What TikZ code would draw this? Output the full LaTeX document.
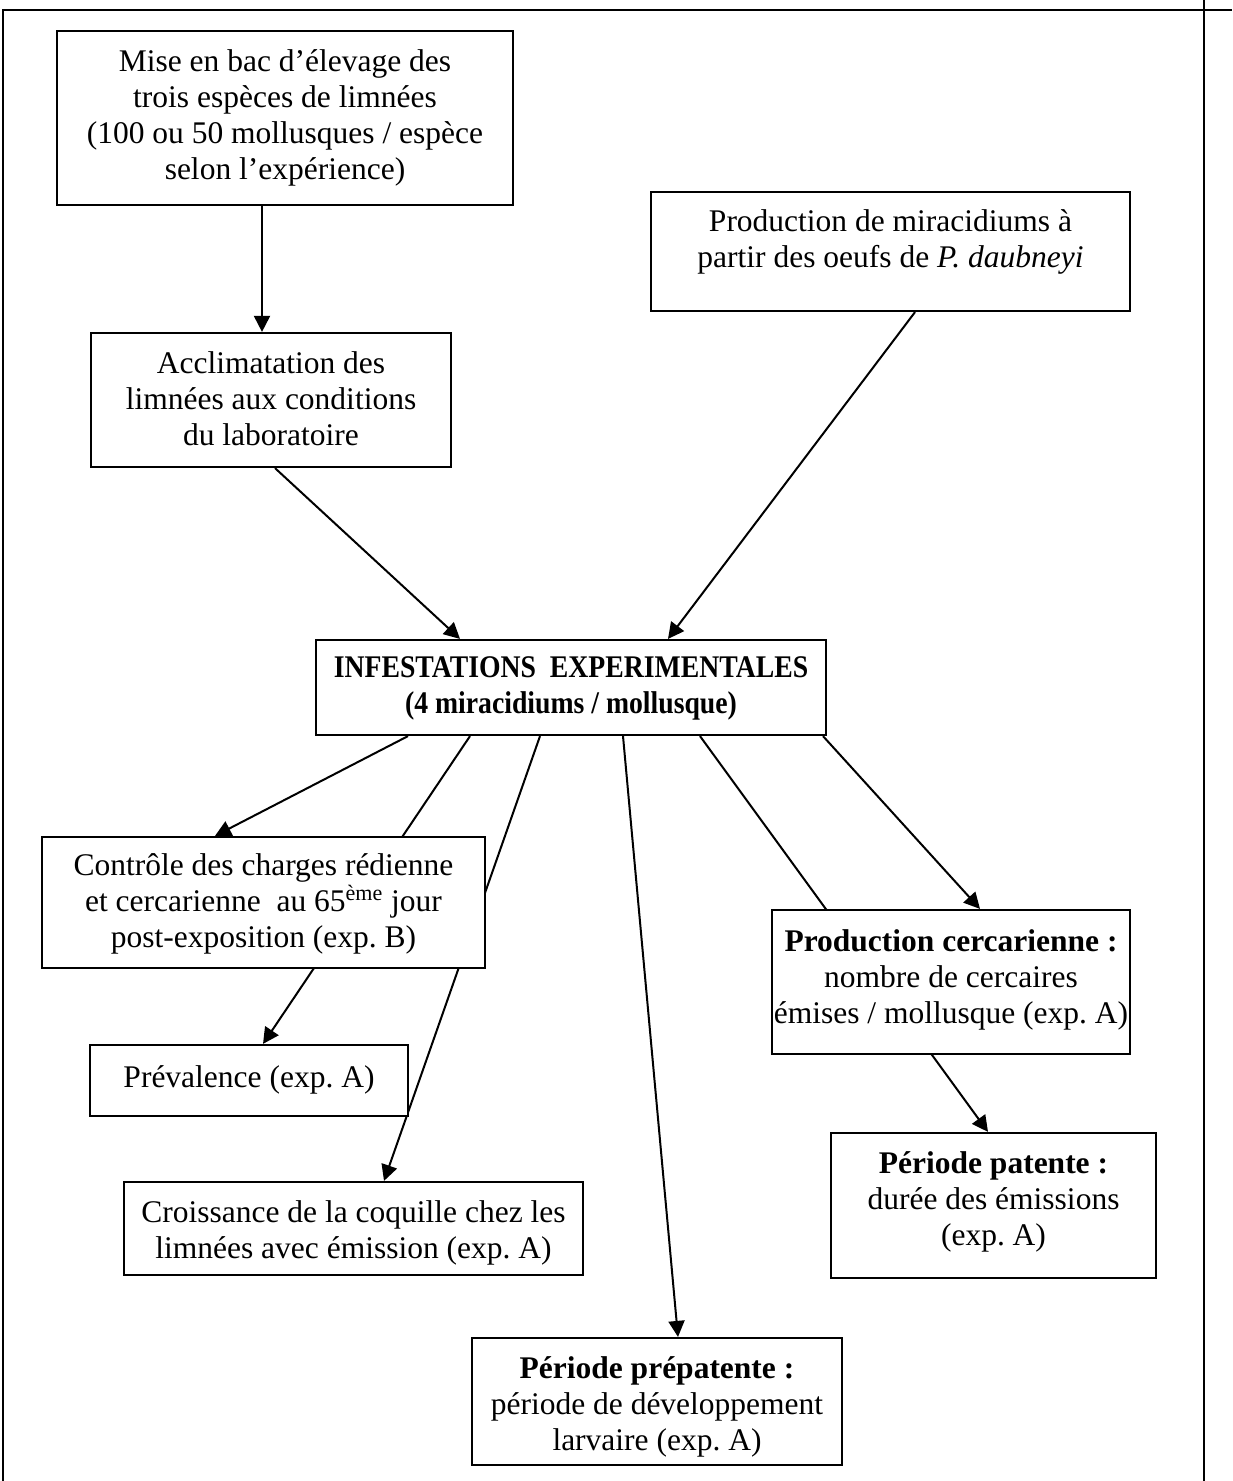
\documentclass[tikz,border=0pt]{standalone}
\usepackage{fontspec}
\setmainfont{Liberation Serif}
\usetikzlibrary{arrows.meta,calc}
\pgfdeclarelayer{bg}
\pgfsetlayers{bg,main}
\frenchspacing
% #1 width, #2 height, #3 first-baseline drop, #4 text
\newcommand{\bxt}[4]{\parbox[c][#2][t]{#1}{\centering\rule{0pt}{#3}#4\par}}
\begin{document}
\begin{tikzpicture}[x=0.5pt,y=-0.5pt,
  box/.style={draw,line width=1.1pt,fill=white,inner sep=0pt,
    font=\fontsize{15.75pt}{18pt}\selectfont},
  link/.style={line width=1pt,-{Triangle[length=8pt,width=8pt]}},
  frame/.style={line width=1.1pt}]
\useasboundingbox (0,0) rectangle (1232,1481);
\draw[frame] (3,1481) -- (3,10) -- (1232,10);
\draw[frame] (1204,0) -- (1204,1481);

\node[box] (mise) at (285,118)
  {\bxt{228pt}{87pt}{20.5pt}{Mise en bac d’élevage des\\trois espèces de limnées\\(100 ou 50 mollusques / espèce\\selon l’expérience)}};
\node[box] (accl) at (271,400)
  {\bxt{180pt}{67pt}{20pt}{Acclimatation des\\limnées aux conditions\\du laboratoire}};
\node[box] (prodm) at (890.5,251.5)
  {\bxt{239.5pt}{59.5pt}{20pt}{Production de miracidiums à\\partir des oeufs de \textit{P. daubneyi}}};
\node[box,font=\fontsize{15.75pt}{18pt}\selectfont\bfseries] (infest) at (571,687.5)
  {\bxt{255pt}{47.5pt}{18.5pt}{\scalebox{0.88}[1]{INFESTATIONS~ EXPERIMENTALES}\\\scalebox{0.88}[1]{(4 miracidiums / mollusque)}}};
\node[box] (contr) at (263.5,902.5)
  {\bxt{221.5pt}{65.5pt}{19pt}{Contrôle des charges rédienne\\et cercarienne~ au 65\textsuperscript{ème} jour\\post-exposition (exp. B)}};
\node[box] (prev) at (249,1080.5)
  {\bxt{159pt}{35.5pt}{21pt}{Prévalence (exp. A)}};
\node[box] (crois) at (353.5,1228.5)
  {\bxt{229.5pt}{46.5pt}{20pt}{Croissance de la coquille chez les\\limnées avec émission (exp. A)}};
\node[box] (prodc) at (951,982)
  {\bxt{179pt}{72pt}{20.5pt}{\textbf{Production cercarienne :}\\nombre de cercaires\\émises / mollusque (exp. A)}};
\node[box] (patente) at (993.5,1205.5)
  {\bxt{162.5pt}{72.5pt}{20pt}{\textbf{Période patente :}\\durée des émissions\\(exp. A)}};
\node[box] (prepat) at (657,1401.5)
  {\bxt{185pt}{63.5pt}{20pt}{\textbf{Période prépatente :}\\période de développement\\larvaire (exp. A)}};

\begin{pgfonlayer}{bg}
\draw[link] ($(mise.south)+(-23,0)$) -- ($(accl.north)+(-9,0)$);
\draw[link] ($(accl.south)+(4,0)$) -- ($(infest.north)+(-111,0)$);
\draw[link] ($(prodm.south)+(24.5,0)$) -- ($(infest.north)+(97,0)$);
\draw[link] ($(infest.south)+(-163,0)$) -- ($(contr.north)+(-48.5,0)$);
\draw[link] ($(infest.south)+(-101,0)$) -- ($(prev.north)+(14,0)$);
\draw[link] ($(infest.south)+(-31,0)$) -- ($(crois.north)+(30.5,0)$);
\draw[link] ($(infest.south)+(52,0)$) -- ($(prepat.north)+(21,0)$);
\draw[link] ($(infest.south)+(129,0)$) -- ($(patente.north)+(-5.5,0)$);
\draw[link] ($(infest.south)+(252,0)$) -- ($(prodc.north)+(29,0)$);
\end{pgfonlayer}
\end{tikzpicture}
\end{document}
